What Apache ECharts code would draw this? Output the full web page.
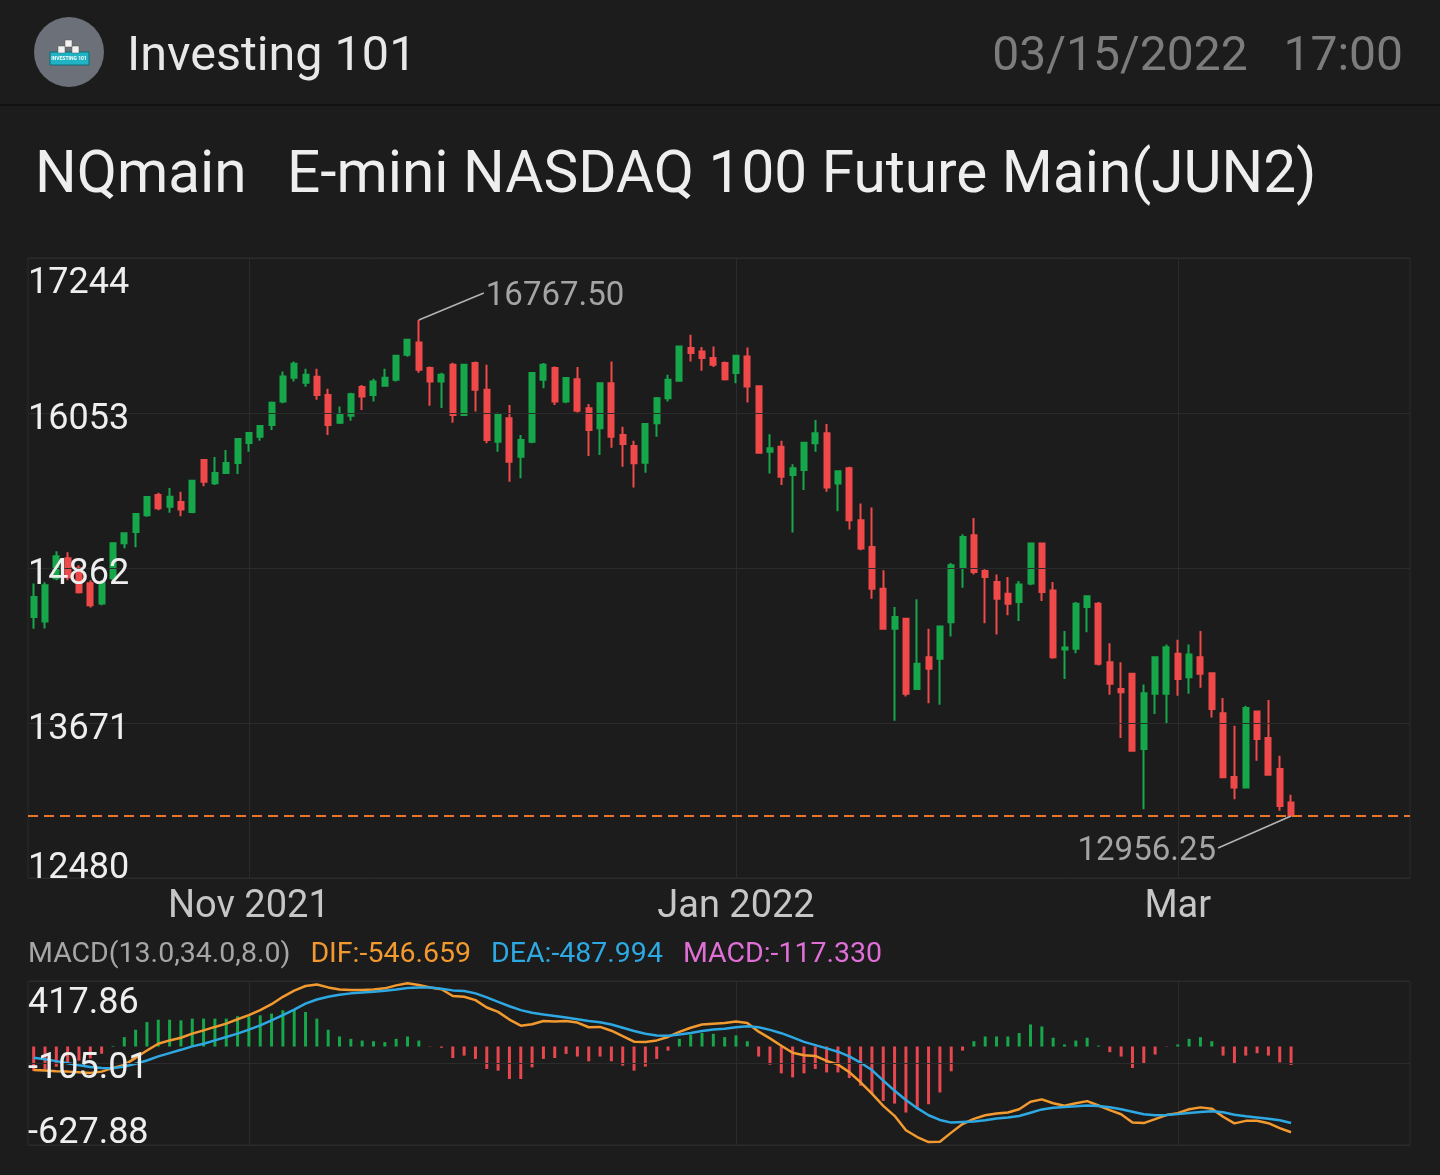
<!DOCTYPE html>
<html>
<head>
<meta charset="utf-8">
<title>NQmain E-mini NASDAQ 100</title>
<script src="https://cdn.jsdelivr.net/npm/echarts@6/dist/echarts.min.js"></script>
<style>
  html, body { margin: 0; padding: 0; background: #1c1c1c; }
  #chart { width: 1440px; height: 1175px; }
</style>
</head>
<body>
<div id="chart"></div>
<script>
// trading days, Oct 5 2021 .. Mar 15 2022
const dates = [
  '2021-10-05','2021-10-06','2021-10-07','2021-10-08','2021-10-11','2021-10-12','2021-10-13','2021-10-14','2021-10-15','2021-10-18',
  '2021-10-19','2021-10-20','2021-10-21','2021-10-22','2021-10-25','2021-10-26','2021-10-27','2021-10-28','2021-10-29',
  '2021-11-01','2021-11-02','2021-11-03','2021-11-04','2021-11-05','2021-11-08','2021-11-09','2021-11-10','2021-11-11','2021-11-12',
  '2021-11-15','2021-11-16','2021-11-17','2021-11-18','2021-11-19','2021-11-22','2021-11-23','2021-11-24','2021-11-26','2021-11-29','2021-11-30',
  '2021-12-01','2021-12-02','2021-12-03','2021-12-06','2021-12-07','2021-12-08','2021-12-09','2021-12-10','2021-12-13','2021-12-14',
  '2021-12-15','2021-12-16','2021-12-17','2021-12-20','2021-12-21','2021-12-22','2021-12-23','2021-12-27','2021-12-28','2021-12-29','2021-12-30','2021-12-31',
  '2022-01-03','2022-01-04','2022-01-05','2022-01-06','2022-01-07','2022-01-10','2022-01-11','2022-01-12','2022-01-13','2022-01-14',
  '2022-01-18','2022-01-19','2022-01-20','2022-01-21','2022-01-24','2022-01-25','2022-01-26','2022-01-27','2022-01-28','2022-01-31',
  '2022-02-01','2022-02-02','2022-02-03','2022-02-04','2022-02-07','2022-02-08','2022-02-09','2022-02-10','2022-02-11','2022-02-14',
  '2022-02-15','2022-02-16','2022-02-17','2022-02-18','2022-02-22','2022-02-23','2022-02-24','2022-02-25','2022-02-28',
  '2022-03-01','2022-03-02','2022-03-03','2022-03-04','2022-03-07','2022-03-08','2022-03-09','2022-03-10','2022-03-11','2022-03-14','2022-03-15'
];
// empty room to the right of the last candle
const padDates = ['2022-03-16','2022-03-17','2022-03-18','2022-03-21','2022-03-22','2022-03-23','2022-03-24','2022-03-25','2022-03-28','2022-03-29'];
const tickLabels = { '2021-11-01': 'Nov 2021', '2022-01-03': 'Jan 2022', '2022-03-01': 'Mar' };

const openVals = [
  14485,14451,14783,14937,14860,14744,14590,14783,15052,15139,
  15268,15422,15332,15370,15293,15692,15514,15592,15668,15823,
  15871,15961,16141,16323,16285,16331,16192,15979,16031,16252,
  16192,16262,16308,16500,16595,16398,16295,16423,16038,16437,
  16231,15833,16013,15717,15833,16308,16398,16141,16313,16090,
  15936,16282,15884,15800,15671,15974,16167,16300,16552,16526,
  16475,16437,16360,16487,16258,15755,15794,15576,15615,15820,
  15897,15512,15628,15229,15024,14703,14395,14472,13933,14176,
  14164,14446,14870,15114,14839,14754,14665,14600,14742,15050,
  14690,14236,14241,14562,14588,14138,13933,14049,13471,13895,
  13895,14203,14022,14176,14053,13745,13257,13175,13760,13556,
  13317,13060
];
const closeVals = [
  14639,14729,14952,14790,14675,14575,14744,15052,15129,15276,
  15407,15322,15409,15312,15532,15525,15592,15668,15853,15900,
  15953,16131,16333,16431,16346,16192,15961,16038,16198,16179,
  16295,16323,16493,16616,16385,16295,16346,16038,16423,16231,
  15846,16038,15679,15846,16360,16423,16141,16321,16071,15923,
  16282,15871,15815,15666,15969,16167,16308,16564,16514,16475,
  16423,16313,16493,16256,15748,15782,15563,15628,15825,15897,
  15481,15605,15229,15011,14703,14395,14485,13895,14126,14087,
  14413,14883,15101,14831,14793,14626,14588,14736,15050,14677,
  14176,14251,14588,14644,14126,13972,13907,13458,13899,14176,
  14254,14010,14197,14049,13779,13255,13175,13787,13548,13273,
  13034,12960
];
const lowVals = [
  14395,14398,14767,14767,14667,14559,14575,14767,15014,15021,
  15255,15306,15286,15260,15283,15491,15499,15584,15584,15755,
  15840,15923,16128,16295,16254,16154,15884,15969,15994,16077,
  16141,16254,16295,16485,16362,16108,16092,15979,16030,16064,
  15820,15755,15525,15551,15820,16244,16115,16128,16056,15722,
  15730,15786,15640,15481,15594,15871,16141,16295,16449,16377,
  16406,16302,16282,16133,15743,15589,15499,15135,15461,15755,
  15447,15299,15158,14998,14626,14388,13689,13874,13925,13822,
  13812,14336,14711,14813,14438,14351,14498,14454,14729,14608,
  14164,14010,14207,14369,14113,13889,13556,13452,13009,13740,
  13663,13881,13895,13941,13714,13252,13086,13167,13381,13265,
  12996,12956.25
];
const highVals = [
  14742,14752,14991,14983,14883,14767,14767,15055,15132,15283,
  15414,15440,15476,15447,15538,15699,15715,15769,15861,15902,
  15961,16141,16372,16449,16393,16393,16239,16102,16208,16269,
  16316,16393,16500,16624,16767.5,16410,16362,16439,16430,16449,
  16423,16054,16115,15884,16364,16437,16410,16329,16406,16123,
  16287,16449,15948,15840,15974,16175,16346,16570,16655,16560,
  16564,16449,16500,16557,16262,15890,15840,15659,15833,16000,
  15969,15609,15640,15358,15327,14844,14562,14480,14621,14395,
  14421,14900,15122,15247,14852,14813,14793,14762,15055,15055,
  14754,14377,14600,14652,14600,14284,14138,14053,13966,14182,
  14274,14311,14274,14377,14061,13864,13650,13804,13766,13848,
  13419,13119
];

// MACD(13,34,8)
const difVals = [
  -150,-153,-158,-160,-164,-168,-160,-136,-117,-72,
  -25,18,39,56,82,103,125,146,174,200,
  232,270,317,356,386,396,377,364,360,360,
  364,371,390,403,392,377,365,322,317,296,
  249,221,172,133,142,163,159,163,153,123,
  125,101,67,31,29,39,61,93,120,140,
  146,150,159,150,95,52,5,-40,-55,-60,
  -92,-114,-163,-228,-300,-378,-442,-534,-577,-609,
  -607,-549,-494,-461,-438,-427,-421,-400,-352,-337,
  -362,-378,-362,-348,-376,-405,-432,-484,-488,-463,
  -437,-425,-400,-388,-396,-448,-490,-474,-473,-489,
  -520,-546.659
];
const deaVals = [
  -72,-81,-93,-106,-119,-130,-137,-138,-128,-110,
  -89,-63,-42,-21,1,18,39,61,82,108,
  135,167,200,236,274,300,317,330,339,345,
  349,356,364,373,377,377,369,358,354,339,
  313,285,257,232,215,204,195,185,174,163,
  155,140,120,99,82,71,69,76,86,99,
  108,114,123,129,123,106,85,58,30,9,
  -12,-33,-63,-103,-150,-217,-282,-341,-393,-438,
  -468,-485,-481,-478,-470,-459,-453,-443,-422,-401,
  -390,-385,-381,-376,-379,-387,-400,-416,-432,-438,
  -436,-431,-424,-418,-413,-419,-435,-445,-452,-460,
  -470,-487.994
];
const macdVals = [
  -156,-145,-129,-108,-90,-76,-46,4,60,107,
  156,171,171,167,178,178,178,178,193,193,
  199,210,231,235,220,178,107,64,49,38,
  34,28,49,64,38,-2,-8,-73,-58,-79,
  -143,-154,-207,-207,-133,-79,-73,-47,-64,-94,
  -64,-94,-122,-154,-128,-79,-26,49,77,86,
  81,60,71,34,-64,-116,-171,-197,-171,-143,
  -165,-165,-201,-250,-304,-347,-364,-421,-400,-368,
  -293,-158,-26,34,64,64,64,86,141,128,
  56,13,38,56,6,-36,-64,-137,-111,-51,
  -2,13,49,60,34,-58,-111,-58,-43,-58,
  -101,-117.33
];

const priceTicks = [12480, 13671, 14862, 16053, 17244];
const macdTicks = [-627.88, -105.01, 417.86];

const UP = '#16a74b';
const DOWN = '#f04949';
const GRID = '#2b2b2b';
const FONT = 'Roboto, "Noto Sans", sans-serif';

const axisDates = dates.concat(padDates);
const isTick = (i, v) => !!tickLabels[v];

const candles = dates.map((d, i) => [openVals[i], closeVals[i], lowVals[i], highVals[i]]);

let maxIdx = 0, minIdx = 0;
highVals.forEach((v, i) => { if (v > highVals[maxIdx]) maxIdx = i; });
lowVals.forEach((v, i) => { if (v < lowVals[minIdx]) minIdx = i; });
const extremes = [
  [maxIdx, highVals[maxIdx], 1],
  [minIdx, lowVals[minIdx], -1]
];
const lastClose = closeVals[closeVals.length - 1];
const last = difVals.length - 1;

const chart = echarts.init(document.getElementById('chart'));

const baseX = (gridIndex, showLabels) => ({
  type: 'category',
  gridIndex,
  data: axisDates,
  boundaryGap: true,
  axisLine: { show: false },
  axisTick: { show: false },
  axisLabel: {
    show: showLabels,
    interval: isTick,
    formatter: v => tickLabels[v] || '',
    color: '#c6c6c6',
    fontSize: 38,
    fontFamily: FONT,
    margin: 10
  },
  splitLine: {
    show: true,
    interval: isTick,
    alignWithLabel: true,
    lineStyle: { color: GRID, width: 1 }
  }
});

// top label sits under the top line, bottom label above the bottom line
const yLabel = (ticks, digits, pads) => ({
  inside: true,
  margin: 0,
  formatter: v => {
    const s = v.toFixed(digits);
    if (Math.abs(v - ticks[ticks.length - 1]) < 1e-6) return '{t|' + s + '}';
    if (Math.abs(v - ticks[0]) < 1e-6) return '{b|' + s + '}';
    return '{m|' + s + '}';
  },
  rich: {
    t: { color: '#eeeeee', fontSize: 36, fontFamily: FONT, padding: [pads[0], 0, 0, 0] },
    m: { color: '#eeeeee', fontSize: 36, fontFamily: FONT, padding: [pads[1], 0, 0, 0] },
    b: { color: '#eeeeee', fontSize: 36, fontFamily: FONT, padding: [0, 0, pads[2], 0] }
  }
});

const option = {
  backgroundColor: '#1c1c1c',
  animation: false,
  graphic: [
    { type: 'rect', shape: { x: 0, y: 104, width: 1440, height: 2 }, style: { fill: '#111111' } },
    { type: 'circle', shape: { cx: 69, cy: 52, r: 35 }, style: { fill: '#6c7179' } },
    { type: 'rect', shape: { x: 50, y: 52, width: 39, height: 13 }, style: { fill: '#1fb3c4', stroke: '#0d6f7a', lineWidth: 1 } },
    { type: 'rect', shape: { x: 58, y: 46, width: 7, height: 7 }, style: { fill: '#f2f2f2', stroke: '#555', lineWidth: 0.5 } },
    { type: 'rect', shape: { x: 72, y: 46, width: 7, height: 7 }, style: { fill: '#f2f2f2', stroke: '#555', lineWidth: 0.5 } },
    { type: 'rect', shape: { x: 65, y: 40, width: 7, height: 7 }, style: { fill: '#f2f2f2', stroke: '#555', lineWidth: 0.5 } },
    { type: 'text', x: 69, y: 59, style: { text: 'INVESTING 101', fill: '#ffffff', fontSize: 5, fontWeight: 'bold', fontFamily: FONT, align: 'center', verticalAlign: 'middle' } },
    { type: 'text', x: 127, y: 58, style: { text: 'Investing 101', fill: '#e8e8e8', fontSize: 48.5, fontFamily: FONT, verticalAlign: 'middle' } },
    { type: 'text', x: 1403, y: 58, style: { text: '03/15/2022   17:00', fill: '#7c7c7c', fontSize: 48, fontFamily: FONT, align: 'right', verticalAlign: 'middle' } },
    { type: 'text', x: 35, y: 177, style: { text: 'NQmain', fill: '#eeeeee', fontSize: 58.5, fontFamily: FONT, verticalAlign: 'middle' } },
    { type: 'text', x: 287, y: 177, style: { text: 'E-mini NASDAQ 100 Future Main(JUN2)', fill: '#eeeeee', fontSize: 58.5, fontFamily: FONT, verticalAlign: 'middle' } },
    {
      type: 'text', x: 28, y: 955,
      style: {
        text: '{a|MACD(13.0,34.0,8.0)}{b|DIF:' + difVals[last].toFixed(3) + '}{c|DEA:' + deaVals[last].toFixed(3) + '}{d|MACD:' + macdVals[last].toFixed(3) + '}',
        verticalAlign: 'middle',
        rich: {
          a: { fill: '#a6a6a6', fontSize: 28.5, fontFamily: FONT, padding: [0, 20, 0, 0] },
          b: { fill: '#f29a30', fontSize: 28.5, fontFamily: FONT, padding: [0, 20, 0, 0] },
          c: { fill: '#2ea8e2', fontSize: 28.5, fontFamily: FONT, padding: [0, 20, 0, 0] },
          d: { fill: '#df6fd6', fontSize: 28.5, fontFamily: FONT }
        }
      }
    }
  ],
  grid: [
    { left: 28, right: 30, top: 258, bottom: 297, show: true, borderColor: GRID, borderWidth: 1 },
    { left: 28, right: 30, top: 981, bottom: 30, show: true, borderColor: GRID, borderWidth: 1 }
  ],
  xAxis: [baseX(0, true), baseX(1, false)],
  yAxis: [
    {
      type: 'value',
      gridIndex: 0,
      min: priceTicks[0],
      max: priceTicks[priceTicks.length - 1],
      interval: priceTicks[1] - priceTicks[0],
      z: 10,
      axisLine: { show: false },
      axisTick: { show: false },
      splitLine: { lineStyle: { color: GRID } },
      axisLabel: yLabel(priceTicks, 0, [52, 14, 18])
    },
    {
      type: 'value',
      gridIndex: 1,
      min: macdTicks[0],
      max: macdTicks[macdTicks.length - 1],
      interval: macdTicks[1] - macdTicks[0],
      z: 10,
      axisLine: { show: false },
      axisTick: { show: false },
      splitLine: { lineStyle: { color: GRID } },
      axisLabel: yLabel(macdTicks, 2, [46, 12, 22])
    }
  ],
  series: [
    {
      type: 'candlestick',
      xAxisIndex: 0,
      yAxisIndex: 0,
      data: candles,
      barWidth: 5.5,
      itemStyle: {
        color: UP,
        color0: DOWN,
        borderColor: UP,
        borderColor0: DOWN,
        borderWidth: 2
      },
      markLine: {
        silent: true,
        symbol: 'none',
        label: { show: false },
        lineStyle: { color: '#e8772e', type: [10, 6], width: 2 },
        data: [{ yAxis: lastClose }]
      }
    },
    {
      type: 'custom',
      xAxisIndex: 0,
      yAxisIndex: 0,
      data: extremes,
      z: 5,
      silent: true,
      renderItem: (params, api) => {
        const val = api.value(1);
        const dir = api.value(2);
        const p = api.coord([api.value(0), val]);
        const end = dir > 0 ? [p[0] + 65, p[1] - 27] : [p[0] - 73, p[1] + 32];
        return {
          type: 'group',
          children: [
            { type: 'line', shape: { x1: p[0], y1: p[1], x2: end[0], y2: end[1] }, style: { stroke: '#b4b4b4', lineWidth: 1.5 } },
            {
              type: 'text', x: end[0] + (dir > 0 ? 2 : -2), y: end[1] + 4,
              style: { text: val.toFixed(2), fill: '#a4a4a4', fontSize: 33, fontFamily: FONT, align: dir > 0 ? 'left' : 'right', verticalAlign: 'middle' }
            }
          ]
        };
      }
    },
    {
      type: 'bar',
      xAxisIndex: 1,
      yAxisIndex: 1,
      data: macdVals,
      barWidth: 3,
      itemStyle: { color: p => (p.value >= 0 ? UP : '#e8474f') }
    },
    {
      type: 'line',
      xAxisIndex: 1,
      yAxisIndex: 1,
      data: difVals,
      symbol: 'none',
      lineStyle: { color: '#f29a30', width: 2.5 },
      z: 4
    },
    {
      type: 'line',
      xAxisIndex: 1,
      yAxisIndex: 1,
      data: deaVals,
      symbol: 'none',
      lineStyle: { color: '#2ea8e2', width: 2.5 },
      z: 4
    }
  ]
};

chart.setOption(option);
</script>
</body>
</html>
